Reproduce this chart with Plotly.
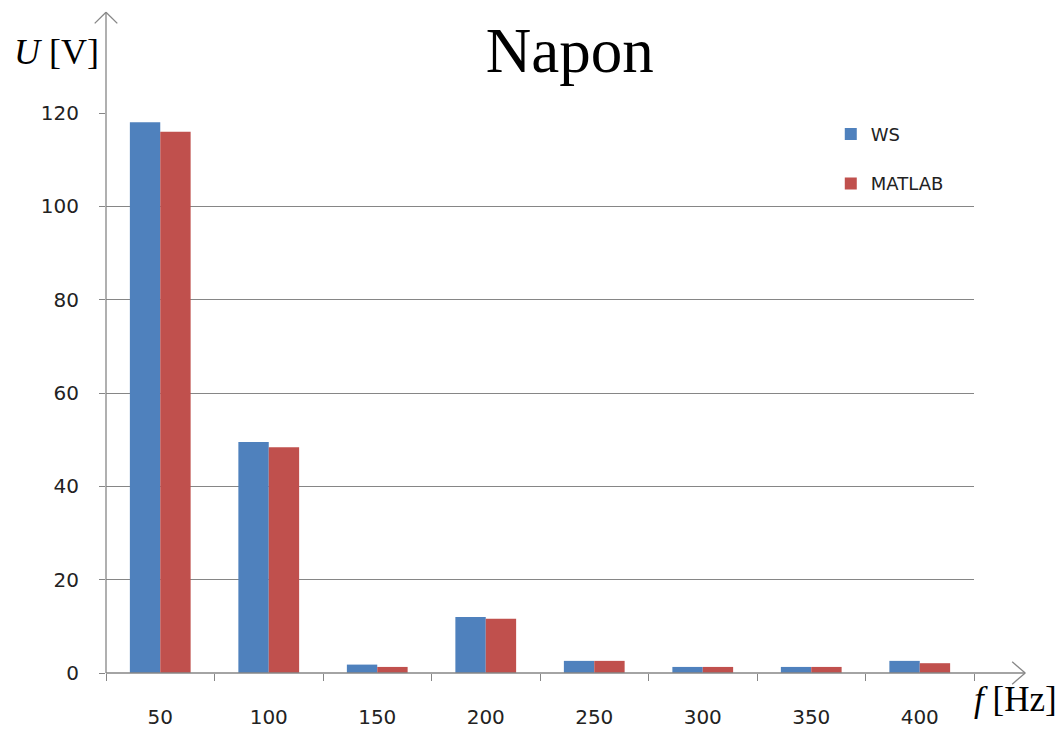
import plotly.graph_objects as go

categories = ["50", "100", "150", "200", "250", "300", "350", "400"]
ws_values = [118.0, 49.5, 1.8, 12.0, 2.6, 1.3, 1.3, 2.6]
matlab_values = [116.0, 48.4, 1.3, 11.6, 2.6, 1.3, 1.3, 2.1]
y_ticks = [0, 20, 40, 60, 80, 100, 120]

BLUE = "#4F81BD"
RED = "#C0504D"
AX = "#868686"

fig = go.Figure()
fig.add_trace(go.Bar(x=categories, y=ws_values, name="WS", marker=dict(color=BLUE, line=dict(width=0)),
                     legendgroup="a"))
fig.add_trace(go.Bar(x=categories, y=matlab_values, name="MATLAB", marker=dict(color=RED, line=dict(width=0)),
                     legendgroup="b"))

lw = 1.3
shapes = []
# y axis with open arrow head
shapes.append(dict(type="line", xref="paper", yref="paper", x0=0, x1=0, y0=0, y1=1.18,
                   line=dict(color=AX, width=lw)))
shapes.append(dict(type="line", xref="paper", yref="paper", x0=0, x1=-0.013, y0=1.18, y1=1.16,
                   line=dict(color=AX, width=lw)))
shapes.append(dict(type="line", xref="paper", yref="paper", x0=0, x1=0.013, y0=1.18, y1=1.16,
                   line=dict(color=AX, width=lw)))
# x axis with open arrow head
shapes.append(dict(type="line", xref="paper", yref="paper", x0=0, x1=1.059, y0=0, y1=0,
                   line=dict(color=AX, width=lw)))
shapes.append(dict(type="line", xref="paper", yref="paper", x0=1.059, x1=1.044, y0=0, y1=0.02,
                   line=dict(color=AX, width=lw)))
shapes.append(dict(type="line", xref="paper", yref="paper", x0=1.059, x1=1.044, y0=0, y1=-0.02,
                   line=dict(color=AX, width=lw)))

fig.update_layout(
    width=1056, height=721,
    margin=dict(l=98, r=90, t=105, b=56, autoexpand=False),
    paper_bgcolor="white", plot_bgcolor="white",
    barmode="group", bargap=0.44, bargroupgap=0,
    title=dict(text="Napon", x=0.532, xanchor="center", y=0.942, yanchor="middle",
               font=dict(family="Liberation Serif", size=63, color="black")),
    xaxis=dict(type="category", showgrid=False, showline=False, zeroline=False,
               automargin=False,
               ticks="outside", tickson="boundaries", ticklen=7, tickcolor=AX,
               ticklabelstandoff=30,
               tickfont=dict(family="DejaVu Sans", size=20, color="#222222")),
    yaxis=dict(range=[0, 120], tickvals=y_ticks, showgrid=True, gridcolor=AX, gridwidth=lw,
               automargin=False,
               zeroline=False, showline=False, ticks="outside", ticklen=6, tickcolor=AX,
               ticklabelstandoff=16,
               tickfont=dict(family="DejaVu Sans", size=20, color="#222222")),
    legend=dict(x=0.835, y=0.995, xanchor="left", yanchor="top", bgcolor="rgba(0,0,0,0)",
                tracegroupgap=23, traceorder="grouped",
                font=dict(family="DejaVu Sans", size=18, color="#222222")),
    shapes=shapes,
    annotations=[
        dict(text="<i>U</i> [V]", xref="paper", yref="paper", x=-0.108, y=1.109,
             xanchor="left", yanchor="middle", showarrow=False,
             font=dict(family="Liberation Serif", size=36, color="black")),
        dict(text="<i>f</i> [Hz]", xref="paper", yref="paper", x=0.998, y=-0.048,
             xanchor="left", yanchor="middle", showarrow=False,
             font=dict(family="Liberation Serif", size=35, color="black")),
    ],
)

fig.write_html("out.html")
